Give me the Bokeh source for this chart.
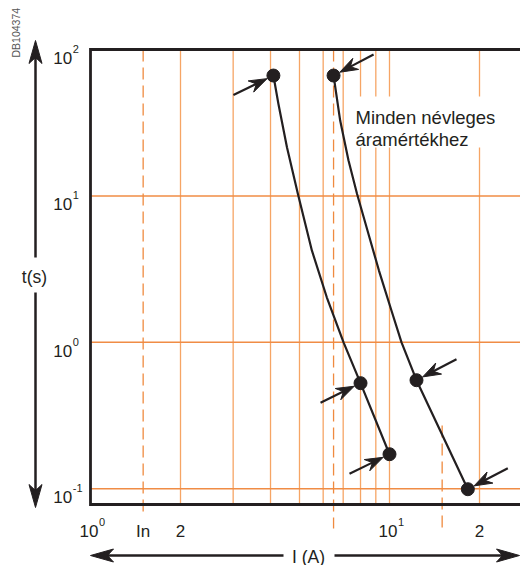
import math
from bokeh.plotting import figure
from bokeh.models import Range1d, Label
from bokeh.core.properties import value
from bokeh.embed import file_html
from bokeh.resources import INLINE

# ---------------- data ----------------
curve1_I = [4.09, 4.25, 4.54, 4.94, 5.50, 6.17, 7.02, 8.0, 10.0]
curve1_t = [66.4, 42.6, 21.5, 10.3, 4.24, 2.03, 1.0, 0.526, 0.172]
curve2_I = [6.50, 6.84, 7.29, 7.79, 8.44, 9.22, 10.15, 10.97, 12.31, 18.28]
curve2_t = [66.4, 32.7, 17.5, 10.3, 5.80, 3.09, 1.65, 1.0, 0.551, 0.0992]
dots1_I = [4.09, 8.0, 10.0]
dots1_t = [66.4, 0.526, 0.172]
dots2_I = [6.50, 12.31, 18.28]
dots2_t = [66.4, 0.551, 0.0992]

I_min, I_max = 1.0, 28.0          # plotted current range
t_min, t_max = 0.078, 100.0       # plotted time range

x_ticks = [1.0, 1.5, 2.0, 10.0, 20.0]
x_tick_base = ["10", "In", "2", "10", "2"]
x_tick_exp = ["0", "", "", "1", ""]
y_ticks = [0.1, 1.0, 10.0, 100.0]
y_tick_base = ["10", "10", "10", "10"]
y_tick_exp = ["-1", "0", "1", "2"]
x_grid = [2, 3, 4, 5, 6, 7, 8, 9, 10, 20]
y_grid = [0.1, 1, 10]
dash_I = [1.5, 6.5, 15.0]
dash_t_top = [100.0, 100.0, 0.27]
note_lines = ["Minden névleges", "áramértékhez"]
x_title = "I (A)"
y_title = "t(s)"
code_text = "DB104374"

# ---------------- layout (pixels) and helpers ----------------
W, H = 520, 565
PX_DEC_X = 299.0
PX_DEC_Y = 146.4
FRAME_L = 90.0   # pixel x where I = I_min
FRAME_T = 49.0   # pixel y where t = t_max


def xd(px):
    return 10 ** ((px - FRAME_L) / PX_DEC_X)


def yd(py):
    return 10 ** (math.log10(t_max) - (py - FRAME_T) / PX_DEC_Y)


def px_of(I):
    return FRAME_L + PX_DEC_X * math.log10(I)


def py_of(t):
    return FRAME_T + PX_DEC_Y * (math.log10(t_max) - math.log10(t))


INK = "#231f20"
FONT = "Liberation Sans"
GRID_V = "#F6A565"
GRID_H = "#F08C45"
DASH_C = "#EF8A3F"

p = figure(width=W, height=H, x_axis_type="log", y_axis_type="log",
           x_range=Range1d(xd(0), xd(W)), y_range=Range1d(yd(H), yd(0)),
           x_axis_location=None, y_axis_location=None,
           output_backend="svg", toolbar_location=None,
           min_border=0, min_border_left=0, min_border_right=0,
           min_border_top=0, min_border_bottom=0)
p.outline_line_color = None
p.grid.visible = False
p.background_fill_color = "white"
p.border_fill_color = "white"

# grid
p.segment(x0=x_grid, y0=[t_min] * len(x_grid), x1=x_grid, y1=[t_max] * len(x_grid),
          line_color=GRID_V, line_width=1.3)
p.segment(x0=[I_min] * len(y_grid), y0=y_grid, x1=[I_max] * len(y_grid), y1=y_grid,
          line_color=GRID_H, line_width=1.5)

# dashed marker lines, extending below the box
dash_bottom_px = [515, 528, 528]
p.segment(x0=dash_I, y0=dash_t_top, x1=dash_I, y1=[yd(b) for b in dash_bottom_px],
          line_color=DASH_C, line_width=1.3, line_dash="12 6")

# white box behind the note
p.quad(left=[xd(348)], right=[xd(500)], top=[yd(96)], bottom=[yd(147)],
       fill_color="white", line_color=None)

# box outline (left, top, bottom)
p.multi_line(xs=[[I_max, I_min, I_min, I_max]], ys=[[t_max, t_max, t_min, t_min]],
             line_color=INK, line_width=2.8, line_join="miter")

# curves and dots
p.line(curve1_I, curve1_t, line_color=INK, line_width=2.2, line_join="round")
p.line(curve2_I, curve2_t, line_color=INK, line_width=2.2, line_join="round")
p.scatter(dots1_I + dots2_I, dots1_t + dots2_t, size=13, color=INK)


# arrows built in pixel space, converted to data
def arrow(start, tip, head_len, head_w, notch):
    sx, sy = start
    tx, ty = tip
    d = math.hypot(tx - sx, ty - sy)
    ux, uy = (tx - sx) / d, (ty - sy) / d
    nx, ny = -uy, ux
    bx, by = tx - head_len * ux, ty - head_len * uy
    qx, qy = tx - notch * ux, ty - notch * uy
    head = [(tx, ty), (bx + nx * head_w / 2, by + ny * head_w / 2), (qx, qy),
            (bx - nx * head_w / 2, by - ny * head_w / 2)]
    shaft = [(sx, sy), (qx + 1.0 * ux, qy + 1.0 * uy)]
    return ([xd(a) for a, _ in shaft], [yd(b) for _, b in shaft],
            [xd(a) for a, _ in head], [yd(b) for _, b in head])


shafts_x, shafts_y, heads_x, heads_y = [], [], [], []


def add_arrow(start, tip, hl, hw, notch):
    a = arrow(start, tip, hl, hw, notch)
    shafts_x.append(a[0]); shafts_y.append(a[1])
    heads_x.append(a[2]); heads_y.append(a[3])


for I, t in zip(dots1_I, dots1_t):
    cx, cy = px_of(I), py_of(t)
    add_arrow((cx - 40.0, cy + 19.5), (cx - 6.3, cy + 3.1), 18, 12.5, 12)
for I, t in zip(dots2_I, dots2_t):
    cx, cy = px_of(I), py_of(t)
    add_arrow((cx + 40.0, cy - 21.0), (cx + 6.2, cy - 3.3), 18, 12.5, 12)

p.multi_line(xs=shafts_x, ys=shafts_y, line_color=INK, line_width=2.2)
p.patches(xs=heads_x, ys=heads_y, fill_color=INK, line_color=INK, line_width=1)

# axis arrows
ax_sx, ax_sy, ax_hx, ax_hy = [], [], [], []
for start, tip in [((35, 257), (35, 40)), ((35, 292), (35, 507)),
                   ((283, 555), (90, 555)), ((334, 555), (519, 555))]:
    a = arrow(start, tip, 23, 13, 17)
    ax_sx.append(a[0]); ax_sy.append(a[1]); ax_hx.append(a[2]); ax_hy.append(a[3])
p.multi_line(xs=ax_sx, ys=ax_sy, line_color=INK, line_width=2.5)
p.patches(xs=ax_hx, ys=ax_hy, fill_color=INK, line_color=INK, line_width=1)

# ---------------- texts ----------------
BASE = "17px"
EXP = "11px"

# y tick labels
p.text(x=[I_min] * len(y_ticks), y=y_ticks, text=y_tick_base, x_offset=-37.3, y_offset=8.5,
       text_font=value(FONT), text_font_size=BASE, text_color=INK,
       text_align="left", text_baseline="alphabetic")
p.text(x=[I_min] * len(y_ticks), y=y_ticks, text=y_tick_exp, x_offset=-17.7, y_offset=-0.5,
       text_font=value(FONT), text_font_size=EXP, text_color=INK,
       text_align="left", text_baseline="alphabetic")

# x tick labels
pw_x = [x for x, e in zip(x_ticks, x_tick_exp) if e]
pw_b = [b for b, e in zip(x_tick_base, x_tick_exp) if e]
pw_e = [e for e in x_tick_exp if e]
pl_x = [x for x, e in zip(x_ticks, x_tick_exp) if not e]
pl_b = [b for b, e in zip(x_tick_base, x_tick_exp) if not e]
p.text(x=pw_x, y=[t_min] * len(pw_x), text=pw_b, x_offset=-11, y_offset=27,
       text_font=value(FONT), text_font_size=BASE, text_color=INK,
       text_align="left", text_baseline="alphabetic")
p.text(x=pw_x, y=[t_min] * len(pw_x), text=pw_e, x_offset=8.5, y_offset=18,
       text_font=value(FONT), text_font_size=EXP, text_color=INK,
       text_align="left", text_baseline="alphabetic")
p.text(x=pl_x, y=[t_min] * len(pl_x), text=pl_b, x_offset=0, y_offset=27,
       text_font=value(FONT), text_font_size=BASE, text_color=INK,
       text_align="center", text_baseline="alphabetic")

# axis titles
p.add_layout(Label(x=xd(34), y=yd(276), text=y_title, text_font=FONT,
                   text_font_size="17.5px", text_color=INK,
                   text_align="center", text_baseline="middle"))
p.add_layout(Label(x=xd(308), y=yd(556), text=x_title, text_font=FONT,
                   text_font_size="17.5px", text_color=INK,
                   text_align="center", text_baseline="middle"))

# note
for line, base in zip(note_lines, [116.7, 138.5]):
    p.add_layout(Label(x=xd(355), y=yd(base), text=line, text_font=FONT,
                       text_font_size="18.5px", text_color=INK,
                       text_baseline="alphabetic", text_align="left"))

# document code
p.add_layout(Label(x=xd(15.5), y=yd(57), text=code_text, angle=math.pi / 2,
                   text_font=FONT, text_font_size="10.5px", text_color="#555555",
                   text_baseline="alphabetic", text_align="left"))

open("out.html", "w").write(file_html(p, INLINE))
